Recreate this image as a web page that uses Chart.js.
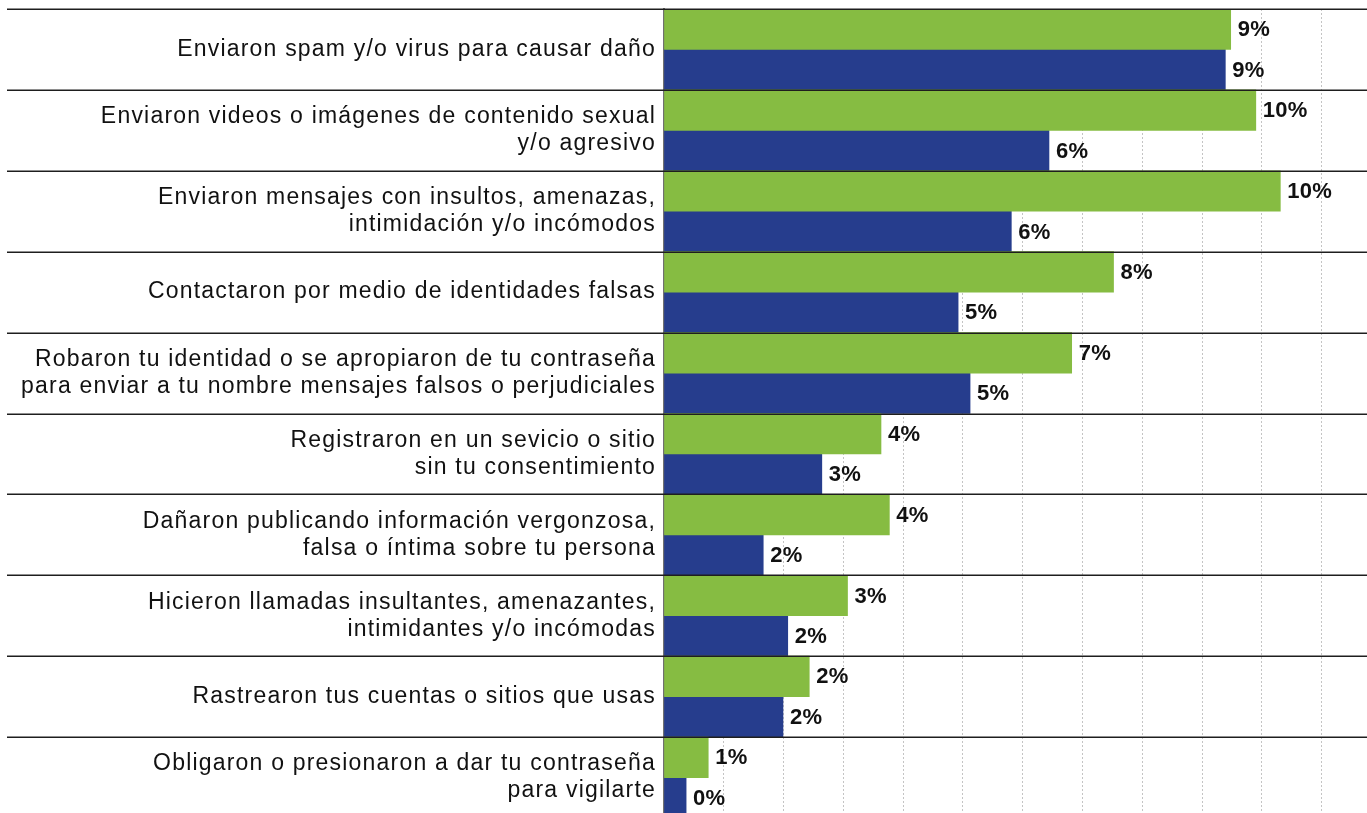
<!DOCTYPE html>
<html lang="es">
<head>
<meta charset="utf-8">
<title>Situaciones en internet</title>
<script src="https://cdn.jsdelivr.net/npm/chart.js@4.4.1/dist/chart.umd.min.js"></script>
<style>
    html, body { margin: 0; padding: 0; background: #fff; overflow: hidden; }
    #wrap { position: relative; width: 1367px; height: 822px; }
</style>
</head>
<body>
<div id="wrap"><canvas id="chart"></canvas></div>
<script>
const categories = [
    'Enviaron spam y/o virus para causar daño',
    ['Enviaron videos o imágenes de contenido sexual', 'y/o agresivo'],
    ['Enviaron mensajes con insultos, amenazas,', 'intimidación y/o incómodos'],
    'Contactaron por medio de identidades falsas',
    ['Robaron tu identidad o se apropiaron de tu contraseña', 'para enviar a tu nombre mensajes falsos o perjudiciales'],
    ['Registraron en un sevicio o sitio', 'sin tu consentimiento'],
    ['Dañaron publicando información vergonzosa,', 'falsa o íntima sobre tu persona'],
    ['Hicieron llamadas insultantes, amenazantes,', 'intimidantes y/o incómodas'],
    'Rastrearon tus cuentas o sitios que usas',
    ['Obligaron o presionaron a dar tu contraseña', 'para vigilarte']
];

// percentages per group
const groupA = [9.48, 9.90, 10.31, 7.52, 6.82, 3.63, 3.77, 3.07, 2.43, 0.74];
const groupB = [9.39, 6.44, 5.81, 4.92, 5.12, 2.64, 1.66, 2.07, 1.99, 0.37];

const GREEN = '#86bc42';
const BLUE = '#263d8d';

// slightly open tracking for the category text
const tracking = {
    id: 'tracking',
    beforeDraw(chart) {
        chart.ctx.letterSpacing = '1.2px';
    }
};

// value text next to the end of every bar
const barValues = {
    id: 'barValues',
    afterDatasetsDraw(chart) {
        const ctx = chart.ctx;
        ctx.save();
        ctx.letterSpacing = '0.2px';
        ctx.fillStyle = '#111';
        ctx.font = 'bold 22px "Liberation Sans", Arial, sans-serif';
        ctx.textAlign = 'left';
        ctx.textBaseline = 'middle';
        chart.data.datasets.forEach((ds, i) => {
            chart.getDatasetMeta(i).data.forEach((bar, j) => {
                ctx.fillText(Math.round(ds.data[j]) + '%', bar.x + 7, bar.y + 1);
            });
        });
        ctx.restore();
    }
};

// black rules between categories, across the whole width
const rowRules = {
    id: 'rowRules',
    afterDatasetsDraw(chart) {
        const y = chart.scales.y;
        const ctx = chart.ctx;
        const step = y.getPixelForValue(1) - y.getPixelForValue(0);
        ctx.save();
        ctx.strokeStyle = '#1e1e1e';
        ctx.lineWidth = 1.5;
        for (let i = 0; i <= categories.length; i++) {
            const py = Math.round(y.getPixelForValue(i) - step / 2) + 0.25;
            ctx.beginPath();
            ctx.moveTo(7, py);
            ctx.lineTo(chart.width, py);
            ctx.stroke();
        }
        ctx.restore();
    }
};

Chart.defaults.font.family = '"Liberation Sans", Arial, sans-serif';

new Chart(document.getElementById('chart'), {
    type: 'bar',
    data: {
        labels: categories,
        datasets: [
            { label: 'Grupo 1', data: groupA, backgroundColor: GREEN },
            { label: 'Grupo 2', data: groupB, backgroundColor: BLUE }
        ]
    },
    options: {
        indexAxis: 'y',
        responsive: true,
        maintainAspectRatio: false,
        animation: false,
        layout: { padding: { top: 9, bottom: 4, left: 0, right: 0 } },
        datasets: {
            bar: { categoryPercentage: 1, barPercentage: 1, borderWidth: 0 }
        },
        plugins: {
            legend: { display: false },
            tooltip: { enabled: false }
        },
        scales: {
            x: {
                min: 0,
                max: 11.76,
                ticks: { display: false, stepSize: 1, includeBounds: false },
                grid: { color: '#c4c4c4', lineWidth: 1, drawTicks: false },
                border: { display: false, dash: [2, 2] }
            },
            y: {
                z: 1,
                afterFit(scale) {
                    scale.width = 664;
                    scale.paddingTop = 0;
                    scale.paddingBottom = 0;
                },
                ticks: {
                    color: '#111',
                    padding: 8,
                    font: { size: 23, lineHeight: 1.17 }
                },
                grid: { display: false, drawTicks: false },
                border: { display: true, color: '#707070', width: 2 }
            }
        }
    },
    plugins: [tracking, barValues, rowRules]
});
</script>
</body>
</html>
